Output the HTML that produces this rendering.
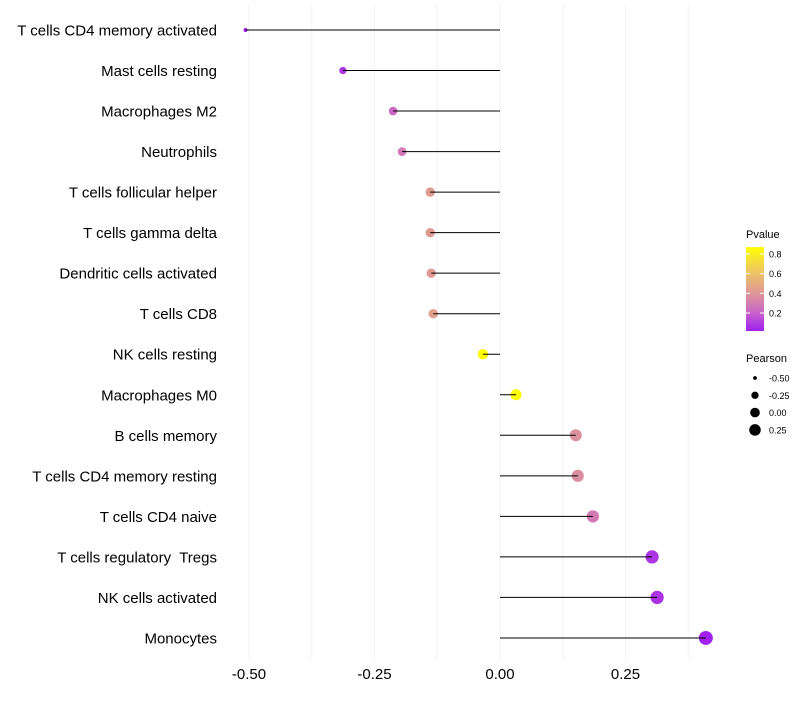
<!DOCTYPE html>
<html><head><meta charset="utf-8"><style>body{margin:0;background:#fff}svg{font-family:"Liberation Sans",sans-serif}text{white-space:pre}</style></head>
<body>
<svg id="c" width="800" height="700"></svg>
<script>
const categories=["T cells CD4 memory activated","Mast cells resting","Macrophages M2","Neutrophils","T cells follicular helper","T cells gamma delta","Dendritic cells activated","T cells CD8","NK cells resting","Macrophages M0","B cells memory","T cells CD4 memory resting","T cells CD4 naive","T cells regulatory  Tregs","NK cells activated","Monocytes"];
const pearson=[-0.507,-0.313,-0.213,-0.195,-0.139,-0.139,-0.137,-0.133,-0.034,0.032,0.151,0.155,0.185,0.303,0.313,0.41];
const pvalues=[0.01,0.08,0.22,0.28,0.42,0.42,0.42,0.45,0.87,0.86,0.38,0.37,0.29,0.08,0.07,0.02];
const xTicks=[-0.5,-0.25,0,0.25];
const xTickLabels=["-0.50","-0.25","0.00","0.25"];
const pTicks=[0.2,0.4,0.6,0.8];
const sizeLegend=[-0.5,-0.25,0,0.25];
const NS="http://www.w3.org/2000/svg",svg=document.getElementById('c');
const X=v=>500+v*502, Y=i=>30+i*40.53;
const pY=p=>313-(p-0.2)*98.3;
const R=v=>Math.sqrt(4+49*(v+0.507));
function col(p){const t=Math.max(0,Math.min(1,(p-0.017)/(0.87-0.017)));
 const s=[[160,32,240],[205,110,195],[225,160,140],[240,205,90],[255,255,0]];
 const k=t*4,i=Math.min(3,Math.floor(k)),f=k-i;
 return `rgb(${s[i].map((c,j)=>Math.round(c+(s[i+1][j]-c)*f)).join(',')})`;}
function el(t,a,txt){const e=document.createElementNS(NS,t);for(const k in a)e.setAttribute(k,a[k]);if(txt!=null)e.textContent=txt;svg.appendChild(e);return e;}
for(let v=-0.5;v<=0.4;v+=0.125){const g=el('line',{x1:X(v),x2:X(v),y1:5,y2:660,stroke:'#f3f3f3','stroke-width':1});
}
xTicks.forEach((v,i)=>{const t=el('text',{x:X(v),y:679,'text-anchor':'middle','font-size':15,fill:'#000'},xTickLabels[i]);
});
categories.forEach((c,i)=>{const y=Y(i);
 const t=el('text',{x:217,y:y+5.5,'text-anchor':'end','font-size':15,fill:'#000'},c);
 
 const d=el('circle',{cx:X(pearson[i]),cy:y,r:R(pearson[i]),fill:col(pvalues[i])});
 
 const l=el('line',{x1:X(0),x2:X(pearson[i]),y1:y,y2:y,stroke:'#000','stroke-width':1});
 });
const defs=el('defs',{});const lg=document.createElementNS(NS,'linearGradient');lg.setAttribute('id','g');lg.setAttribute('x1',0);lg.setAttribute('y1',1);lg.setAttribute('x2',0);lg.setAttribute('y2',0);defs.appendChild(lg);
for(let k=0;k<=10;k++){const p=0.017+k/10*(0.87-0.017);const s=document.createElementNS(NS,'stop');s.setAttribute('offset',k/10);s.setAttribute('stop-color',col(p));lg.appendChild(s);}
let t=el('text',{x:746,y:238,'font-size':11,fill:'#000'},'Pvalue');
const bar=el('rect',{x:746,y:pY(0.87),width:18,height:pY(0.017)-pY(0.87),fill:'url(#g)'});
pTicks.forEach(p=>{el('line',{x1:746,x2:750,y1:pY(p),y2:pY(p),stroke:'#fff'});el('line',{x1:760,x2:764,y1:pY(p),y2:pY(p),stroke:'#fff'});
 const l=el('text',{x:769,y:pY(p)+3.5,'font-size':9,fill:'#000'},p.toFixed(1));});
t=el('text',{x:746,y:362,'font-size':11,fill:'#000'},'Pearson');
sizeLegend.forEach((v,i)=>{const y=378+i*17.3;const c=el('circle',{cx:755,cy:y,r:R(v)*0.9,fill:'#000'});
 const l=el('text',{x:769,y:y+3.5,'font-size':9,fill:'#000'},v.toFixed(2));});
</script>
</body></html>
